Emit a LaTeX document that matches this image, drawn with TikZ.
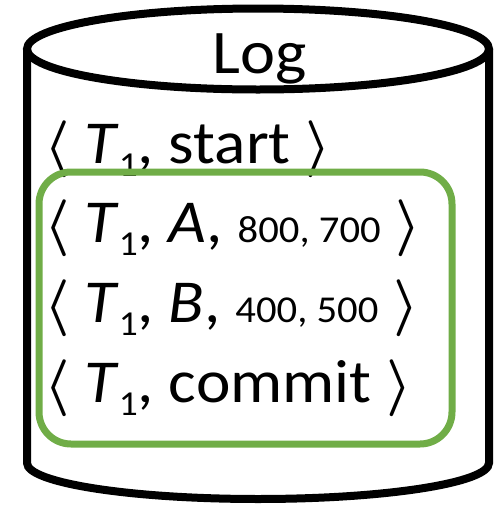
\documentclass[tikz,border=0pt]{standalone}
\usepackage{graphicx}
\usepackage{fontspec}
\setmainfont{Carlito}[FakeStretch=1.07]
% angle brackets, subscript and small value text
\newcommand\lbr{\scalebox{5.7}{\fontsize{10}{12}\selectfont\boldmath$\langle$}}
\newcommand\rbr{\scalebox{5.7}{\fontsize{10}{12}\selectfont\boldmath$\rangle$}}
\newcommand\subone{\raisebox{-13pt}{\fontsize{35}{35}\selectfont 1}}
\newcommand\vals[1]{{\fontsize{38}{38}\selectfont #1}}
\definecolor{grpgreen}{HTML}{70AD47}
\tikzset{
  cyl/.style={line width=8pt, black},
  grp/.style={line width=7pt, draw=grpgreen, rounded corners=32pt},
  entry/.style={anchor=base west, inner sep=0pt, font=\fontsize{61}{61}\selectfont},
}
\begin{document}
\begin{tikzpicture}[x=1pt,y=-1pt]
\useasboundingbox (0,0) rectangle (497,507);
% cylinder body
\draw[cyl] (27,49) -- (27,463) arc[start angle=180, end angle=0, x radius=231, y radius=36] -- (489,49);
\draw[cyl] (258,49) ellipse[x radius=231, y radius=40.5];
\node[anchor=base, inner sep=0pt, font=\fontsize{62}{62}\selectfont] (title) at (259.5,73) {Log};
% log records
\node[entry] (r1) at (44,163) {\lbr\ \textit{T}\subone, start \rbr};
\node[entry] (r2) at (44,242) {\lbr\ \textit{T}\subone, \textit{A}, \vals{800, 700} \rbr};
\node[entry] (r3) at (44,322) {\lbr\ \textit{T}\subone, \textit{B}, \vals{400, 500} \rbr};
\node[entry] (r4) at (44,402) {\lbr\ \textit{T}\subone, commit \rbr};
% committed group
\draw[grp] (39,172) rectangle (452,444);
\end{tikzpicture}
\end{document}
